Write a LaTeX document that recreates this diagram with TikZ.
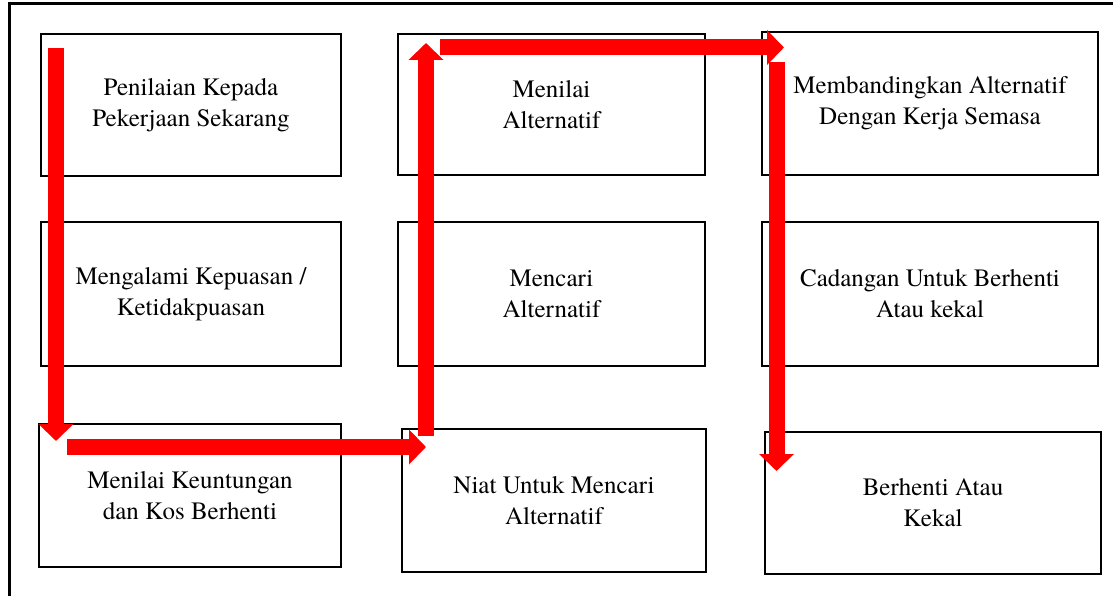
\documentclass[tikz,border=0pt]{standalone}
\usepackage{fontspec}
\setmainfont{texgyretermes-regular.otf}
\usetikzlibrary{arrows.meta}

\tikzset{
  stagebox/.style={draw, line width=1.3pt, align=center, inner sep=0pt,
    font=\fontsize{25}{31}\selectfont},
  flowarrow/.style={draw=red, line width=16pt,
    -{Triangle[width=34pt,length=17pt,fill=red]}}
}

\begin{document}
\begin{tikzpicture}[x=1pt,y=1pt]
      \useasboundingbox (0,0) rectangle (1113,595);
      \clip (0,0) rectangle (1113,595);

      % outer frame, only left and top edges are in view
      \draw[line width=3pt] (9,-20) -- (9,591) -- (1130,591);

      % first column
      \node[stagebox, minimum width=300, minimum height=142] (penilaian) at (191,490) {Penilaian Kepada\\Pekerjaan Sekarang};
      \node[stagebox, minimum width=300, minimum height=144] (mengalami) at (191,301) {Mengalami Kepuasan /\\Ketidakpuasan};
      \node[stagebox, minimum width=302, minimum height=143] (keuntungan) at (190,99.5) {Menilai Keuntungan\\dan Kos Berhenti};

      % second column
      \node[stagebox, minimum width=307, minimum height=141] (menilai) at (551.5,490.5) {Menilai\\Alternatif};
      \node[stagebox, minimum width=307, minimum height=144] (mencari) at (551.5,301) {Mencari\\Alternatif};
      \node[stagebox, minimum width=304, minimum height=143] (niat) at (554,94.5) {Niat Untuk Mencari\\Alternatif};

      % third column
      \node[stagebox, minimum width=336, minimum height=143] (membanding) at (930,491.5) {Membandingkan Alternatif\\Dengan Kerja Semasa};
      \node[stagebox, minimum width=336, minimum height=144] (cadangan) at (930,301) {Cadangan Untuk Berhenti\\Atau kekal};
      \node[stagebox, minimum width=336, minimum height=142] (berhenti) at (933,92) {Berhenti Atau\\Kekal};

      % end points of the red flow
      \coordinate (a1s) at (56,547);
      \coordinate (a1e) at (56,154);
      \coordinate (a2s) at (67,148);
      \coordinate (a2e) at (426,148);
      \coordinate (a3s) at (426,159);
      \coordinate (a3e) at (426,552);
      \coordinate (a4s) at (440,547.5);
      \coordinate (a4e) at (784,547.5);
      \coordinate (a5s) at (776.5,533);
      \coordinate (a5e) at (776.5,124);

      \draw[flowarrow] (a1s) -- (a1e);
      \draw[flowarrow] (a2s) -- (a2e);
      \draw[flowarrow] (a3s) -- (a3e);
      \draw[flowarrow] (a4s) -- (a4e);
      \draw[flowarrow] (a5s) -- (a5e);
    \end{tikzpicture}
\end{document}
